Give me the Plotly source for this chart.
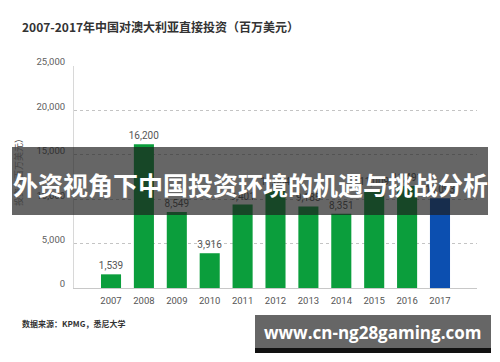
import plotly.graph_objects as go

years = ["2007", "2008", "2009", "2010", "2011", "2012", "2013", "2014", "2015", "2016", "2017"]
investment = [1539, 16200, 8549, 3916, 9401, 11004, 9185, 8351, 11009, 11491, 10093]
bar_colors = ["#0b9e3c"] * 10 + ["#0c4fb0"]
y_ticks = [0, 5000, 10000, 15000, 20000, 25000]
y_tick_text = ["0", "5,000", "10,000", "15,000", "20,000", "25,000"]

title_text = "2007-2017年中国对澳大利亚直接投资（百万美元）"
y_title = "投资（百万美元）"
source_text = "数据来源：KPMG，悉尼大学"
banner_text = "外资视角下中国投资环境的机遇与挑战分析"
watermark_text = "www.cn-ng28gaming.com"

# plot area in pixels
L, R, T, B = 74, 477, 66, 288
W, H = 500, 362


def px(x):
    return (x - L) / (R - L)


def py(y):
    return (B - y) / (B - T)


fig = go.Figure()
fig.add_trace(go.Bar(
    x=years, y=investment,
    marker=dict(color=bar_colors, line=dict(width=0)),
    text=[f"{v:,}" for v in investment],
    textposition="outside",
    constraintext="none",
    textfont=dict(size=10, color="#555555", family="Roboto, Noto Sans CJK SC"),
    cliponaxis=False,
    width=0.61,
))

fig.update_layout(
    width=W, height=H,
    margin=dict(l=L, r=W - R, t=T, b=H - B, pad=0),
    plot_bgcolor="white", paper_bgcolor="white",
    showlegend=False,
    font=dict(family="Roboto, Noto Sans CJK SC", size=9, color="#555555"),
    xaxis=dict(
        range=[-1.125, 11.125],
        showline=True, linecolor="#c8c8c8", linewidth=1,
        showgrid=False, ticks="", ticklabelstandoff=4,
        tickfont=dict(size=9.5, color="#555555"),
        fixedrange=True,
    ),
    yaxis=dict(
        range=[0, 25000],
        tickvals=y_ticks, ticktext=y_tick_text,
        showline=True, linecolor="#d8d8d8", linewidth=1,
        showgrid=True, gridcolor="#c4c4c4", griddash="dot", gridwidth=1,
        zeroline=False, ticks="", ticklabelstandoff=6,
        ticklabelshift=-4,
        tickfont=dict(size=9.5, color="#606060"),
        fixedrange=True,
    ),
)

shapes = [
    # overlay banner
    dict(type="rect", xref="paper", yref="paper",
         x0=px(12), x1=px(488), y0=py(215), y1=py(147),
         fillcolor="rgba(30,30,30,0.68)", line=dict(width=0), layer="above"),
    # watermark box
    dict(type="rect", xref="paper", yref="paper",
         x0=px(255), x1=px(491), y0=py(348), y1=py(315),
         fillcolor="#666666", line=dict(width=0), layer="above"),
    dict(type="rect", xref="paper", yref="paper",
         x0=px(255), x1=px(491), y0=py(353), y1=py(348),
         fillcolor="#111111", line=dict(width=0), layer="above"),
]
fig.update_layout(shapes=shapes)

annotations = [
    dict(text=title_text, xref="paper", yref="paper", x=px(20), y=py(26),
         xanchor="left", yanchor="middle", showarrow=False,
         font=dict(size=12, color="#333333", family="Noto Sans CJK SC", weight="bold")),
    dict(text=y_title, xref="paper", yref="paper", x=px(18), y=py(170),
         xanchor="center", yanchor="middle", showarrow=False, textangle=-90,
         font=dict(size=9, color="#444444", family="Noto Sans CJK SC")),
    dict(text=source_text, xref="paper", yref="paper", x=px(20), y=py(323),
         xanchor="left", yanchor="middle", showarrow=False,
         font=dict(size=8, color="#333333", family="Noto Sans CJK SC", weight="bold")),
    dict(text=banner_text, xref="paper", yref="paper", x=px(250), y=py(184),
         xanchor="center", yanchor="middle", showarrow=False,
         font=dict(size=25, color="white", family="Noto Sans CJK SC", weight="bold")),
    dict(text=watermark_text, xref="paper", yref="paper", x=px(372), y=py(332),
         xanchor="center", yanchor="middle", showarrow=False,
         font=dict(size=17, color="white", family="Open Sans, DejaVu Sans", weight="bold")),
]
fig.update_layout(annotations=annotations)

fig.write_html("out.html", config={"displayModeBar": False},
               post_script="document.body.style.margin='0';")
